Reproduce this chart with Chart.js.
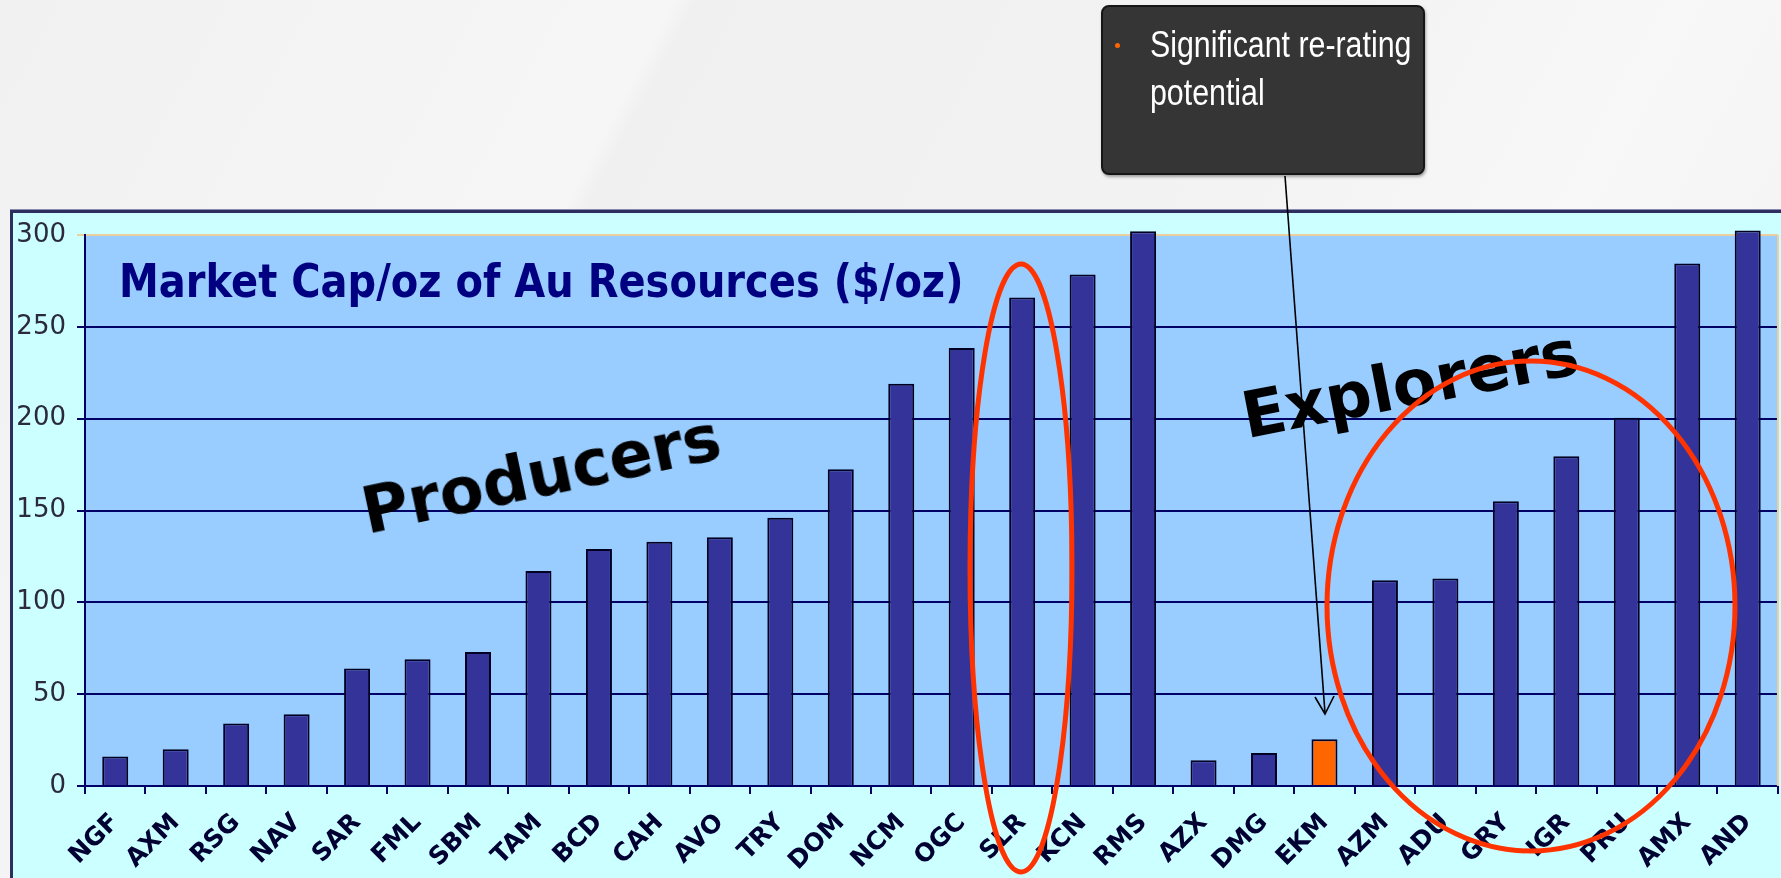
<!DOCTYPE html>
<html>
<head>
<meta charset="utf-8">
<script src="https://cdn.jsdelivr.net/npm/chart.js@4/dist/chart.umd.min.js"></script>
<style>
  html, body { margin: 0; padding: 0; }
  body {
    width: 1781px; height: 878px; overflow: hidden; position: relative;
    background: linear-gradient(118deg, #f1f1f1 0%, #f6f6f6 30%, #f0f0f0 31%, #f3f3f3 60%, #f8f8f8 75%, #efefef 100%);
    font-family: "Liberation Sans", Arial, sans-serif;
  }
  #frame {
    position: absolute; left: 10px; top: 210px; width: 1800px; height: 700px;
    background: #ccffff; border-left: 3px solid #2e2e5e; border-top: 3px solid #2e2e5e;
    box-shadow: 0 -1px 0 #8a8ab0;
  }
  #chart { position: absolute; left: 11px; top: 213px; }
  .note { position: absolute; white-space: nowrap; }
  #title {
    left: 119px; top: 263px; font: bold 40px "DejaVu Sans", sans-serif; color: #000080;
    line-height: 40px; transform: scaleY(1.15); transform-origin: left 34px;
  }
  .group {
    font: bold 64px "DejaVu Sans", sans-serif; color: #000; line-height: 64px;
  }
  #callout {
    position: absolute; left: 1101px; top: 5px; width: 320px; height: 166px;
    background: #353535; border: 2px solid #161616; border-radius: 8px;
    box-shadow: 1px 2px 3px rgba(0,0,0,0.35);
  }
  #callout .bullet {
    position: absolute; left: 12px; top: 36px; width: 5px; height: 5px; border-radius: 50%; background: #ff6600;
  }
  #callout .txt {
    position: absolute; left: 47px; top: 14px; color: #fff; font: 37px "Liberation Sans", Arial, sans-serif;
    line-height: 48px; white-space: nowrap; transform: scaleX(0.82); transform-origin: left top;
  }
  svg { position: absolute; left: 0; top: 0; }
</style>
</head>
<body>
<div id="frame"></div>
<canvas id="chart" width="1772" height="665"></canvas>
<div class="note" id="title">Market Cap/oz of Au Resources ($/oz)</div>
<div class="note group" style="left:541px; top:474px; transform: translate(-50%,-50%) rotate(-12deg);">Producers</div>
<div class="note group" style="left:1410px; top:384px; transform: translate(-50%,-50%) rotate(-11deg);">Explorers</div>
<svg width="1781" height="878">
  <ellipse cx="1021" cy="568" rx="51" ry="304" fill="none" stroke="#ff3300" stroke-width="5"/>
  <ellipse cx="1531" cy="606" rx="204" ry="245" fill="none" stroke="#ff3300" stroke-width="5"/>
  <line x1="1285" y1="176" x2="1325" y2="713" stroke="#000" stroke-width="1.6"/>
  <polyline points="1315,697 1325,714 1334,696" fill="none" stroke="#000" stroke-width="1.6"/>
</svg>
<div id="callout">
  <div class="bullet"></div>
  <div class="txt">Significant re-rating<br>potential</div>
</div>
<script>
const categories = ['NGF','AXM','RSG','NAV','SAR','FML','SBM','TAM','BCD','CAH','AVO','TRY','DOM','NCM','OGC','SLR','KCN','RMS','AZX','DMG','EKM','AZM','ADU','GRY','IGR','PRU','AMX','AND']
const capPerOz = [16,20,34,39,64,69,73,117,129,133,135.5,146,172.5,219,238.5,266,278.5,302,14,18,25.5,112,113,155,179.5,200.5,284.5,302.5]
const highlighted = ['EKM']
const yTicks = [0,50,100,150,200,250,300]

const navy = '#000066'

const plotBackground = {
    id: 'plotBackground',
    beforeDraw(chart){
        const {ctx, chartArea: a} = chart
        ctx.save()
        ctx.fillStyle = '#99ccff'
        ctx.fillRect(a.left, a.top, a.right - a.left, a.bottom - a.top)
        ctx.restore()
    },
    afterDatasetsDraw(chart){
        const {ctx, chartArea: a} = chart
        ctx.save()
        ctx.strokeStyle = '#eccf9f'
        ctx.lineWidth = 2
        ctx.beginPath()
        ctx.moveTo(a.right, a.bottom)
        ctx.lineTo(a.right, a.top)
        ctx.stroke()
        ctx.restore()
    }
}

function grafico(){
    const data = {
        labels: categories,
        datasets: [{
            data: capPerOz,
            backgroundColor: categories.map(c => highlighted.includes(c) ? '#ff6600' : '#333399'),
            borderColor: '#000022',
            borderWidth: 2,
            borderSkipped: 'bottom',
            categoryPercentage: 1,
            barPercentage: 0.43,
            clip: false
        }]
    }
    new Chart(document.getElementById('chart'), {
        type: 'bar',
        data,
        plugins: [plotBackground],
        options: {
            responsive: false,
            devicePixelRatio: 1,
            animation: false,
            layout: {padding: {top: 22, right: 4, left: 0, bottom: 0}},
            plugins: {legend: {display: false}, tooltip: {enabled: false}},
            scales: {
                x: {
                    afterFit(scale){ scale.height = 92 },
                    grid: {display: true, drawOnChartArea: false, color: navy, lineWidth: 2, tickLength: 8},
                    border: {color: navy, width: 2},
                    ticks: {
                        color: '#000033', minRotation: 45, maxRotation: 45, padding: 14,
                        font: {family: 'DejaVu Sans', size: 25, weight: 'bold'}
                    }
                },
                y: {
                    min: 0, max: 300,
                    afterFit(scale){
                        scale.width = 74
                        scale.paddingTop = 0
                        scale.paddingBottom = 0
                    },
                    afterBuildTicks(scale){ scale.ticks = yTicks.map(v => ({value: v})) },
                    grid: {
                        color: ctx => ctx.tick && ctx.tick.value === 300 ? '#eccf9f' : navy,
                        lineWidth: 2, tickLength: 8
                    },
                    border: {color: navy, width: 2},
                    ticks: {
                        color: '#2a2a3a', padding: 11,
                        font: {family: 'DejaVu Sans', size: 26}
                    }
                }
            }
        }
    })
}

grafico()
</script>
</body>
</html>
